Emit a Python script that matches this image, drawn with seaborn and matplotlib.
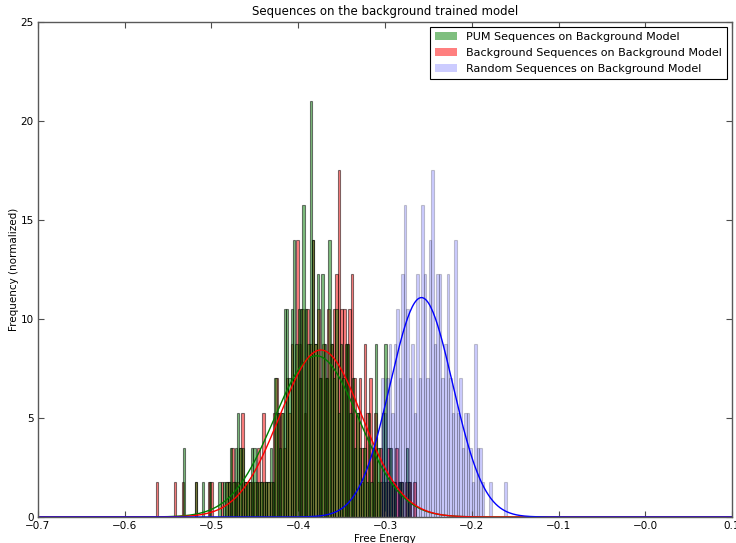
import numpy as np
import pandas as pd
import matplotlib
matplotlib.use("Agg")
import matplotlib.pyplot as plt
import seaborn as sns
from matplotlib.patches import Patch

# %%
# one sequence in a bin shows up as 1.75 on the normalized axis
UNIT = 1.75

# PUM sequences on background model (bin start, bin width, counts per bin)
pum_start, pum_width = -0.5355, 0.0027
pum_counts = [
    0, 2, 0, 0, 0, 0, 1, 0, 0, 1, 0, 0, 1, 0, 0, 0, 1, 0, 1, 1,
    1, 2, 1, 2, 3, 2, 2, 1, 1, 1, 2, 2, 1, 1, 1, 1, 1, 1, 2, 1,
    4, 3, 2, 3, 6, 6, 4, 6, 8, 5, 6, 6, 9, 6, 5, 12, 8, 5, 7, 4,
    7, 5, 4, 8, 5, 4, 6, 3, 5, 4, 5, 5, 3, 4, 2, 3, 2, 1, 2, 1,
    3, 1, 2, 5, 2, 1, 3, 5, 1, 2, 1, 1, 0, 1, 1, 0, 2, 1,
]

# background sequences on background model
bg_start, bg_width = -0.5645, 0.003
bg_counts = [
    1, 0, 0, 0, 0, 0, 0, 1, 0, 0, 1, 0, 0, 0, 0, 1, 0, 0, 0, 0,
    1, 1, 0, 0, 0, 1, 0, 1, 1, 2, 1, 1, 2, 3, 1, 1, 1, 1, 1, 2,
    1, 3, 1, 1, 1, 3, 4, 3, 3, 2, 4, 3, 5, 4, 8, 5, 6, 3, 6, 5,
    8, 5, 6, 4, 5, 4, 6, 5, 6, 7, 10, 6, 6, 5, 6, 7, 4, 3, 4, 2,
    5, 3, 4, 2, 3, 1, 2, 1, 1, 2, 1, 1, 2, 1, 1, 0, 1, 1, 0, 1,
]

# random sequences on background model
rand_start, rand_width = -0.3045, 0.0029
rand_counts = [
    4, 3, 4, 5, 3, 5, 6, 4, 7, 9, 6, 4, 5, 3, 7, 4, 9, 7, 4, 8,
    10, 5, 7, 7, 4, 5, 7, 4, 3, 8, 3, 4, 2, 3, 3, 2, 1, 5, 2, 2,
    1, 0, 0, 1, 0, 0, 0, 0, 0, 1,
]

# normal fits (mean, std) drawn over the histograms
pum_fit = (-0.379, 0.049)
bg_fit = (-0.374, 0.0473)
rand_fit = (-0.258, 0.036)

labels = [
    "PUM Sequences on Background Model",
    "Background Sequences on Background Model",
    "Random Sequences on Background Model",
]

# %%


def hist_frame(start, width, counts):
    edges = start + width * np.arange(len(counts) + 1)
    centers = edges[:-1] + width / 2
    df = pd.DataFrame({"energy": centers, "freq": np.array(counts) * UNIT})
    return df, list(edges)


def normpdf(x, mu, sigma):
    return np.exp(-0.5 * ((x - mu) / sigma) ** 2) / (sigma * np.sqrt(2 * np.pi))


plt.rcParams["font.family"] = "DejaVu Sans"
fig = plt.figure(figsize=(7.36, 5.43), dpi=100, facecolor="white")
ax = fig.add_axes([0.0516, 0.0479, 0.9430, 0.9116])

# red underneath so the overlap reads green/olive like the original
series = [
    (bg_start, bg_width, bg_counts, "red", 0.5),
    (pum_start, pum_width, pum_counts, "green", 0.5),
    (rand_start, rand_width, rand_counts, "blue", 0.2),
]
for start, width, counts, color, alpha in series:
    df, edges = hist_frame(start, width, counts)
    sns.histplot(
        df,
        x="energy",
        weights="freq",
        bins=edges,
        stat="count",
        color=color,
        alpha=alpha,
        edgecolor=(0, 0, 0, alpha),
        linewidth=0.8,
        ax=ax,
    )

xs = np.linspace(-0.7, 0.1, 600)
for (mu, sigma), color in zip([pum_fit, bg_fit, rand_fit], ["green", "red", "blue"]):
    sns.lineplot(x=xs, y=normpdf(xs, mu, sigma), color=color, linewidth=1, ax=ax)

ticks = np.round(np.arange(-0.7, 0.11, 0.1), 1)
ax.set_xlim(-0.7, 0.1)
ax.set_ylim(0, 25)
ax.set_xticks(ticks)
ax.set_xticklabels([f"{t:.1f}".replace("-", "\u2212") for t in ticks])
ax.set_yticks(range(0, 26, 5))
ax.tick_params(direction="in", top=True, right=True, length=4, width=0.8,
               color="0.3", labelsize=7.5, pad=3)
for sp in ax.spines.values():
    sp.set_linewidth(1)
    sp.set_color("0.35")

ax.set_xlabel("Free Energy", fontsize=7.5, labelpad=2)
ax.set_ylabel("Frequency (normalized)", fontsize=7.5, labelpad=1)
ax.set_title("Sequences on the background trained model", fontsize=8.5, pad=5)

legend_elements = (
    Patch(facecolor="green", alpha=0.5, label=labels[0]),
    Patch(facecolor="red", alpha=0.5, label=labels[1]),
    Patch(facecolor="blue", alpha=0.2, label=labels[2]),
)
leg = ax.legend(handles=legend_elements, loc="upper right", fontsize=8,
                fancybox=False, framealpha=1, edgecolor="black",
                borderaxespad=0.45, borderpad=0.45, handlelength=2.0,
                handletextpad=0.8, labelspacing=0.55)
leg.get_frame().set_linewidth(0.8)

plt.savefig("out.png", dpi=100, facecolor="white")
